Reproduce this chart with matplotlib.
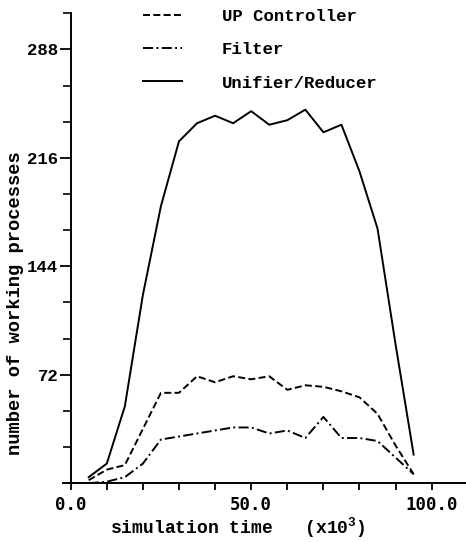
import matplotlib
matplotlib.use("Agg")
import matplotlib.pyplot as plt
from matplotlib.ticker import MultipleLocator, FixedLocator, FuncFormatter

plt.rcParams['font.family'] = ['Liberation Mono', 'DejaVu Sans Mono']
plt.rcParams['mathtext.fontset'] = 'custom'
plt.rcParams['mathtext.rm'] = 'Liberation Mono:bold'

# simulation time (x10^3)
t = [5, 10, 15, 20, 25, 30, 35, 40, 45, 50, 55, 60, 65, 70, 75, 80, 85, 90, 95]

up_controller = [2, 9, 12, 36, 60, 60, 71, 67, 71, 69, 71, 62, 65, 64, 61, 57, 46, 25, 6]
filter_proc = [0, 1, 4, 13, 29, 31, 33, 35, 37, 37, 33, 35, 30, 44, 30, 30, 28, 17, 6]
unifier_reducer = [4, 13, 51, 125, 184, 227, 239, 244, 239, 247, 238, 241, 248, 233, 238, 207, 169, 92, 19]

series_names = ["UP Controller", "Filter", "Unifier/Reducer"]

fig = plt.figure(figsize=(4.66, 5.42), dpi=100)
ax = fig.add_axes([0.1354, 0.1085, 0.8646, 0.867])

lw = 1.4
ax.plot(t, up_controller, color='black', lw=lw, linestyle=(0, (3.6, 1.7)), label=series_names[0])
ax.plot(t, filter_proc, color='black', lw=lw, linestyle=(0, (5.2, 1.7, 1.0, 1.7)), label=series_names[1])
ax.plot(t, unifier_reducer, color='black', lw=lw, linestyle='-', label=series_names[2])

ax.set_xlim(-2.1, 109.5)
ax.set_ylim(0, 312)

ax.spines['top'].set_visible(False)
ax.spines['right'].set_visible(False)
ax.spines['left'].set_position(('data', 0))
for s in ('left', 'bottom'):
    ax.spines[s].set_linewidth(1.4)

ax.xaxis.set_major_locator(MultipleLocator(10))
ax.xaxis.set_major_formatter(FuncFormatter(lambda v, p: f"{v:.1f}" if round(v) % 50 == 0 else ""))
ax.yaxis.set_major_locator(FixedLocator([72, 144, 216, 288]))
ax.yaxis.set_minor_locator(MultipleLocator(24))
ax.tick_params(axis='x', direction='out', length=5, width=1.3, pad=4, labelsize=12.5)
ax.tick_params(axis='y', which='major', direction='out', length=8, width=1.3, pad=1, labelsize=12.5)
ax.tick_params(axis='y', which='minor', direction='out', length=6, width=1.2)
for lab in ax.get_xticklabels():
    lab.set_family(['DejaVu Sans Mono'])
    lab.set_fontweight('bold')
for lab in ax.get_yticklabels():
    lab.set_fontweight('bold')

leg = ax.legend(loc='upper left', bbox_to_anchor=(143 / 466, 1 - 9 / 542),
                bbox_transform=fig.transFigure, frameon=False,
                prop={'size': 12.5, 'weight': 'bold'},
                handlelength=2.25, handletextpad=2.3, labelspacing=1.04,
                borderpad=0, borderaxespad=0)

fig.text(238 / 466, 1 - 528 / 542, "simulation time   (x10$^3$)",
         ha='center', va='center', fontsize=13, fontweight='bold')
fig.text(16 / 466, 1 - 303 / 542, "number of working processes",
         ha='center', va='center', rotation=90, fontsize=13.5, fontweight='bold')

fig.savefig("out.png", dpi=100)
